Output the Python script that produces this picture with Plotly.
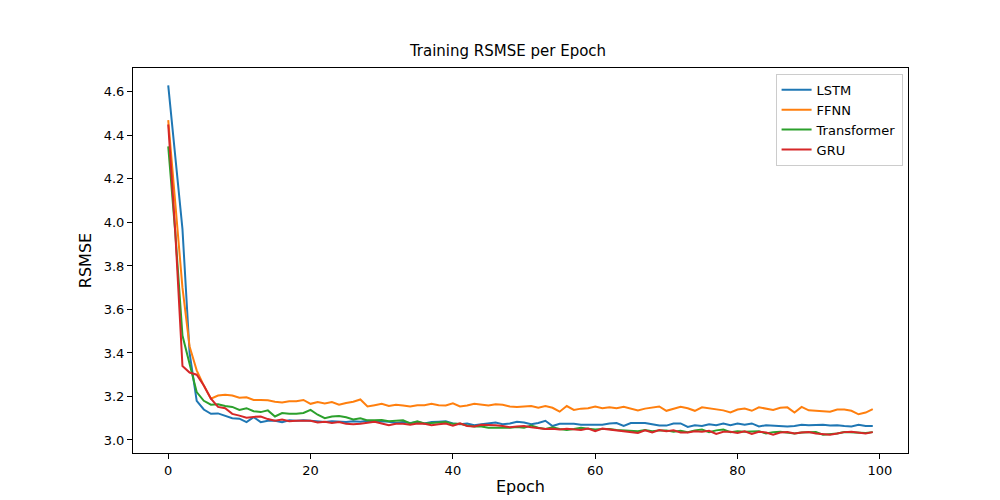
import plotly.graph_objects as go

epochs = list(range(100))

lstm = [4.63, 4.30, 3.97, 3.40, 3.18, 3.14, 3.12, 3.122, 3.112, 3.10, 3.098, 3.082, 3.105, 3.082, 3.088, 3.088, 3.082, 3.09, 3.088, 3.09, 3.088, 3.086, 3.082, 3.086, 3.084, 3.082, 3.086, 3.084, 3.088, 3.082,
        3.086, 3.084, 3.078, 3.082, 3.078, 3.082, 3.076, 3.082, 3.084, 3.086, 3.076, 3.072, 3.076, 3.068, 3.072, 3.076, 3.08, 3.072, 3.076, 3.084, 3.08, 3.072, 3.078, 3.088, 3.064, 3.074, 3.074, 3.074, 3.07, 3.07,
        3.068, 3.07, 3.076, 3.078, 3.064, 3.078, 3.078, 3.078, 3.072, 3.066, 3.066, 3.076, 3.076, 3.06, 3.068, 3.064, 3.072, 3.068, 3.076, 3.068, 3.076, 3.07, 3.076, 3.062, 3.068, 3.066, 3.064, 3.062, 3.064, 3.07,
        3.068, 3.068, 3.07, 3.066, 3.068, 3.064, 3.062, 3.07, 3.064, 3.064]
ffnn = [4.47, 4.10, 3.70, 3.43, 3.32, 3.25, 3.19, 3.204, 3.208, 3.204, 3.194, 3.196, 3.184, 3.184, 3.182, 3.176, 3.172, 3.178, 3.178, 3.184, 3.166, 3.174, 3.168, 3.174, 3.162, 3.17, 3.176, 3.186, 3.154, 3.16,
        3.166, 3.156, 3.162, 3.158, 3.154, 3.16, 3.16, 3.166, 3.16, 3.158, 3.168, 3.154, 3.158, 3.166, 3.162, 3.158, 3.164, 3.162, 3.154, 3.152, 3.154, 3.156, 3.148, 3.156, 3.148, 3.13, 3.156, 3.138, 3.144, 3.146,
        3.154, 3.146, 3.15, 3.146, 3.152, 3.144, 3.136, 3.144, 3.15, 3.154, 3.134, 3.144, 3.152, 3.146, 3.134, 3.15, 3.146, 3.14, 3.136, 3.126, 3.14, 3.144, 3.134, 3.15, 3.144, 3.138, 3.148, 3.15, 3.126, 3.152,
        3.136, 3.134, 3.13, 3.13, 3.14, 3.14, 3.134, 3.118, 3.126, 3.142]
transformer = [4.35, 3.95, 3.48, 3.35, 3.22, 3.18, 3.162, 3.164, 3.156, 3.152, 3.138, 3.146, 3.132, 3.128, 3.136, 3.108, 3.124, 3.12, 3.12, 3.124, 3.138, 3.116, 3.1, 3.108, 3.11, 3.104, 3.094, 3.1, 3.09, 3.09,
               3.092, 3.086, 3.088, 3.09, 3.076, 3.086, 3.076, 3.078, 3.078, 3.082, 3.074, 3.074, 3.066, 3.062, 3.062, 3.056, 3.056, 3.056, 3.056, 3.06, 3.056, 3.066, 3.056, 3.05, 3.058, 3.05, 3.046, 3.05, 3.056, 3.052,
               3.048, 3.05, 3.05, 3.046, 3.044, 3.042, 3.04, 3.046, 3.04, 3.044, 3.044, 3.038, 3.042, 3.036, 3.044, 3.048, 3.036, 3.044, 3.048, 3.036, 3.04, 3.038, 3.04, 3.04, 3.03, 3.036, 3.038, 3.034, 3.03, 3.034,
               3.036, 3.036, 3.024, 3.026, 3.03, 3.036, 3.034, 3.034, 3.032, 3.036]
gru = [4.45, 3.95, 3.34, 3.31, 3.30, 3.25, 3.19, 3.152, 3.146, 3.12, 3.112, 3.102, 3.106, 3.108, 3.096, 3.088, 3.094, 3.086, 3.088, 3.088, 3.088, 3.08, 3.084, 3.078, 3.082, 3.074, 3.072, 3.074, 3.08, 3.084,
       3.076, 3.068, 3.074, 3.074, 3.07, 3.076, 3.074, 3.068, 3.072, 3.076, 3.066, 3.076, 3.064, 3.062, 3.07, 3.07, 3.068, 3.064, 3.058, 3.062, 3.064, 3.058, 3.054, 3.05, 3.052, 3.048, 3.052, 3.05, 3.046, 3.052,
       3.04, 3.052, 3.048, 3.044, 3.04, 3.038, 3.032, 3.044, 3.034, 3.046, 3.04, 3.044, 3.034, 3.034, 3.04, 3.038, 3.042, 3.028, 3.038, 3.038, 3.032, 3.04, 3.028, 3.038, 3.034, 3.024, 3.034, 3.036, 3.03, 3.034,
       3.036, 3.03, 3.026, 3.024, 3.03, 3.036, 3.038, 3.034, 3.03, 3.036]

series = [("LSTM", lstm, "#1f77b4"), ("FFNN", ffnn, "#ff7f0e"),
          ("Transformer", transformer, "#2ca02c"), ("GRU", gru, "#d62728")]

fig = go.Figure()
for name, vals, color in series:
    fig.add_trace(go.Scatter(x=epochs, y=vals, name=name, mode="lines",
                             line=dict(color=color, width=2)))

axis = dict(showgrid=False, zeroline=False, showline=True, linecolor="black", mirror=True,
            ticks="outside", ticklen=5, tickcolor="black", tickfont=dict(size=13))
fig.update_layout(
    width=1000, height=500,
    template="none",
    paper_bgcolor="white", plot_bgcolor="white",
    font=dict(family="DejaVu Sans", color="black", size=13),
    title=dict(text="Training RSMSE per Epoch", x=0.5, xanchor="center", y=0.925, font=dict(size=15)),
    margin=dict(l=125, r=100, t=60, b=55),
    xaxis=dict(axis, title=dict(text="Epoch", standoff=4), range=[-4.95, 103.95], dtick=20),
    yaxis=dict(axis, title=dict(text="RSMSE", standoff=8), range=[2.94, 4.71], dtick=0.2, tickformat=".1f"),
    legend=dict(x=0.993, y=0.985, xanchor="right", yanchor="top", bordercolor="#cccccc",
                borderwidth=1, bgcolor="white", font=dict(size=13)),
    showlegend=True,
)
fig.write_html("out.html")
